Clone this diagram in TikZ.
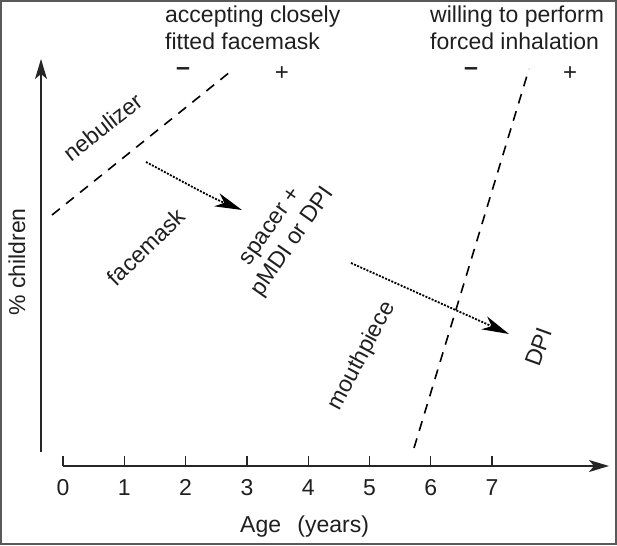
\documentclass[tikz,border=0pt]{standalone}
\usepackage{fontspec}
\setmainfont{Liberation Sans}
\usetikzlibrary{arrows.meta}
\begin{document}
\begin{tikzpicture}[x=1pt,y=-1pt,
  txt/.style={font=\fontsize{23}{27}\selectfont, inner sep=0pt, text=black!88},
  axisline/.style={line width=1.3pt, draw=black!85},
  axistip/.style={-{Stealth[length=20pt,width=12pt,inset=5pt]}},
  boundary/.style={line width=1.6pt, draw=black, dash pattern=on 10pt off 8pt},
  shiftarrow/.style={line width=1.8pt, draw=black, dash pattern=on 2pt off 1.4pt,
    -{Stealth[length=27pt,width=14pt,inset=8pt]}},
  minussign/.style={font=\fontsize{25}{28}\selectfont\bfseries, inner sep=0pt, text=black!88},
  plussign/.style={font=\fontsize{24}{28}\selectfont, inner sep=0pt, text=black!88}
]
\useasboundingbox (0,0) rectangle (617,545);
\draw[line width=2pt, draw=black!65] (1,1) rectangle (616,544);

% axes
\coordinate (ybot) at (41,452);
\coordinate (ytop) at (41,59);
\coordinate (xl) at (63,466);
\coordinate (xr) at (609,466);
\draw[axisline, axistip] (ybot) -- (ytop);
\draw[axisline, axistip] (xl) -- (xr);
\foreach \i in {0,...,7} {
  \coordinate (tk\i) at ({63+61.3*\i},466);
  \draw[axisline] (tk\i) -- ++(0,-10);
  \node[txt, anchor=base] (t\i) at ({63+61.3*\i},495) {\i};
}
\node[txt, anchor=base west] (age) at (240,532) {Age\hspace{10pt} (years)};
\node[txt, rotate=90] (pct) at (17,262) {\% children};

% top headings
\node[txt, anchor=base west, align=left] (acc) at (165,50) {accepting closely\\fitted facemask};
\node[txt, anchor=base west, align=left] (will) at (430,50) {willing to perform\\forced inhalation};
\node[minussign] (m1) at (183,72) {–};
\node[plussign] (p1) at (282,74) {+};
\node[minussign] (m2) at (471,72) {–};
\node[plussign] (p2) at (570,74) {+};

% dashed boundaries
\coordinate (a1) at (52,215);
\coordinate (a2) at (230,72);
\draw[boundary] (a1) -- (a2);
\coordinate (b1) at (414,448);
\coordinate (b2) at (529,69);
\draw[boundary] (b1) -- (b2);

% dotted arrows
\coordinate (s1) at (146,162);
\coordinate (e1) at (242,210);
\draw[shiftarrow] (s1) .. controls (178,179) and (210,197) .. (e1);
\coordinate (s2) at (351,263);
\coordinate (e2) at (509,334);
\draw[shiftarrow] (s2) -- (e2);

% rotated labels
\node[txt, rotate=38] (neb) at (103,127) {nebulizer};
\node[txt, rotate=44] (face) at (146,247) {facemask};
\node[txt, rotate=55, align=center] (spacer) at (283,235) {spacer +\\pMDI or DPI};
\node[txt, rotate=62] (mouth) at (362,356) {mouthpiece};
\node[txt, rotate=70] (dpi) at (539,347) {DPI};
\end{tikzpicture}
\end{document}
